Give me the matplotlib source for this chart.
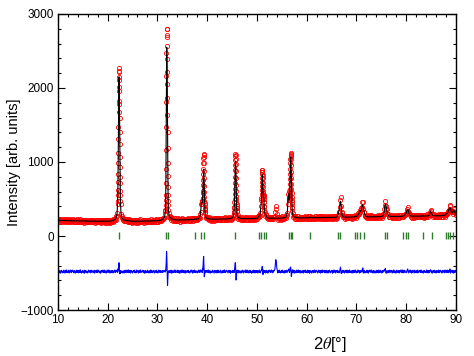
import numpy as np
import matplotlib
matplotlib.use('Agg')
import matplotlib.pyplot as plt
from matplotlib.ticker import MultipleLocator

plt.rcParams['font.family'] = ['Liberation Sans', 'DejaVu Sans']
plt.rcParams['mathtext.fontset'] = 'stix'

# 2theta scan, 0.1 deg step, 10..90
two_theta = np.round(np.linspace(10, 90, 801), 1)

# calculated profile, one row per degree (x.0 .. x.9)
calc_rows = [
    [212, 212, 212, 211, 211, 211, 211, 210, 210, 210],  # 10
    [210, 210, 209, 209, 209, 209, 209, 208, 208, 208],
    [208, 208, 208, 207, 207, 207, 207, 207, 206, 206],
    [206, 206, 206, 206, 206, 205, 205, 205, 205, 205],
    [205, 205, 204, 204, 204, 204, 204, 204, 203, 203],
    [203, 203, 203, 203, 203, 203, 202, 202, 202, 202],  # 15
    [202, 202, 202, 202, 202, 201, 201, 201, 201, 201],
    [201, 201, 201, 201, 201, 200, 200, 200, 200, 200],
    [200, 200, 200, 200, 200, 200, 200, 200, 199, 199],
    [199, 199, 199, 199, 199, 199, 199, 199, 199, 199],
    [200, 200, 200, 201, 201, 202, 203, 204, 206, 208],  # 20
    [211, 213, 215, 217, 221, 226, 234, 246, 263, 302],
    [428, 822, 1600, 2150, 1600, 822, 428, 303, 264, 247],
    [235, 227, 222, 218, 216, 214, 212, 211, 210, 209],
    [208, 207, 206, 205, 204, 203, 202, 201, 201, 200],
    [200, 200, 200, 200, 200, 200, 200, 200, 201, 201],  # 25
    [201, 201, 201, 201, 201, 201, 201, 201, 201, 201],
    [202, 202, 202, 202, 202, 202, 202, 202, 202, 202],
    [203, 203, 203, 203, 203, 203, 204, 204, 204, 204],
    [205, 205, 205, 205, 205, 206, 206, 206, 206, 206],
    [207, 208, 209, 210, 211, 212, 213, 215, 217, 219],  # 30
    [222, 226, 232, 240, 253, 280, 330, 680, 1980, 2510],
    [1960, 900, 365, 300, 272, 258, 248, 241, 236, 232],
    [229, 226, 224, 222, 221, 220, 219, 218, 218, 217],
    [217, 217, 217, 217, 217, 217, 217, 217, 217, 217],
    [218, 218, 218, 218, 218, 219, 219, 219, 219, 219],  # 35
    [220, 220, 220, 220, 220, 221, 221, 221, 221, 221],
    [222, 222, 223, 223, 224, 230, 232, 228, 227, 227],
    [228, 230, 233, 238, 245, 256, 275, 330, 415, 458],
    [455, 505, 728, 901, 710, 443, 308, 264, 248, 242],
    [238, 235, 233, 232, 231, 230, 229, 229, 228, 228],  # 40
    [228, 228, 228, 228, 228, 228, 228, 228, 228, 228],
    [229, 229, 229, 229, 229, 229, 229, 229, 229, 229],
    [230, 230, 230, 230, 230, 230, 230, 230, 230, 230],
    [231, 231, 232, 232, 233, 234, 235, 237, 239, 242],
    [246, 251, 258, 273, 323, 480, 791, 1010, 791, 480],  # 45
    [323, 273, 258, 251, 246, 243, 240, 238, 237, 236],
    [235, 235, 235, 235, 234, 234, 234, 234, 234, 234],
    [235, 235, 235, 235, 235, 235, 235, 235, 235, 235],
    [236, 236, 236, 236, 236, 237, 237, 237, 238, 238],
    [240, 243, 250, 262, 270, 268, 285, 330, 400, 470],  # 50
    [690, 828, 690, 545, 500, 360, 310, 285, 283, 268],
    [256, 249, 245, 243, 242, 241, 241, 241, 241, 241],
    [240, 240, 240, 240, 241, 241, 241, 241, 241, 241],
    [241, 241, 241, 241, 241, 241, 241, 241, 241, 241],
    [242, 243, 244, 244, 245, 247, 249, 252, 257, 267],  # 55
    [284, 321, 417, 554, 570, 492, 573, 855, 1066, 834],
    [511, 348, 290, 275, 266, 261, 257, 254, 252, 250],
    [248, 247, 246, 246, 245, 245, 245, 245, 245, 245],
    [246, 246, 246, 246, 246, 246, 246, 246, 246, 246],
    [247, 247, 247, 247, 247, 248, 250, 255, 250, 248],  # 60
    [248, 248, 248, 248, 248, 248, 248, 248, 248, 248],
    [249, 249, 249, 249, 249, 249, 249, 249, 249, 249],
    [250, 250, 250, 250, 250, 250, 250, 250, 250, 250],
    [251, 251, 251, 251, 251, 251, 251, 251, 251, 251],
    [252, 252, 252, 252, 252, 252, 252, 252, 253, 253],  # 65
    [255, 258, 268, 290, 320, 345, 390, 450, 470, 420],
    [350, 300, 275, 265, 260, 257, 256, 255, 255, 255],
    [255, 255, 255, 255, 255, 255, 255, 255, 255, 255],
    [256, 256, 256, 257, 257, 258, 260, 264, 268, 266],
    [264, 268, 278, 285, 290, 300, 320, 345, 335, 330],  # 70
    [360, 400, 420, 410, 380, 340, 310, 285, 272, 266],
    [262, 260, 259, 259, 259, 259, 259, 259, 259, 259],
    [260, 260, 260, 260, 260, 260, 260, 260, 260, 260],
    [261, 261, 261, 261, 261, 261, 261, 261, 261, 262],
    [263, 265, 268, 273, 282, 300, 340, 400, 430, 420],  # 75
    [390, 350, 315, 290, 278, 271, 268, 266, 265, 264],
    [264, 264, 264, 264, 264, 264, 264, 264, 264, 264],
    [265, 265, 265, 265, 265, 265, 265, 265, 265, 265],
    [266, 266, 267, 268, 270, 273, 278, 285, 292, 300],
    [310, 330, 350, 360, 350, 325, 300, 285, 277, 272],  # 80
    [270, 269, 268, 268, 268, 268, 268, 268, 268, 268],
    [269, 269, 269, 269, 269, 269, 269, 269, 269, 269],
    [270, 270, 270, 270, 275, 270, 270, 270, 270, 270],
    [271, 271, 272, 272, 273, 275, 279, 290, 315, 330],
    [325, 305, 290, 282, 278, 276, 274, 273, 273, 273],  # 85
    [273, 273, 273, 273, 273, 273, 273, 273, 274, 274],
    [274, 274, 275, 275, 276, 277, 278, 280, 283, 287],
    [295, 300, 305, 315, 325, 340, 360, 380, 385, 370],
    [345, 325, 315, 315, 325, 345, 350, 335, 320, 310],
    [300],                                                # 90.0
]

# obs - calc on the same grid (difference curve before its offset)
resid_rows = [
    [12, -8, 21, -15, 4, -22, 9, 17, -5, -18],  # 10
    [7, -13, 19, -2, -20, 14, -9, 23, -16, 3],
    [-11, 18, -4, -19, 10, 22, -7, -14, 16, -1],
    [20, -6, -17, 8, 13, -21, 5, -10, 19, -12],
    [-3, 15, -18, 11, -9, 24, -13, 2, -20, 9],
    [16, -11, 6, -23, 18, -4, 12, -16, 7, -8],  # 15
    [-19, 4, 21, -10, -2, 14, -17, 20, -6, 11],
    [8, -15, -3, 17, -21, 9, 13, -7, -12, 22],
    [-14, 10, 19, -5, -16, 3, -22, 15, 6, -9],
    [18, -2, -13, 21, -8, -17, 11, 4, -19, 13],
    [-6, 23, -11, 2, 16, -20, 8, -14, 12, -4],  # 20
    [14, -18, 7, -9, 20, -3, -15, 19, 5, 12],
    [10, 40, 110, 120, -20, -15, 5, -12, 9, -6],
    [-17, 11, 3, -21, 15, -8, 18, -13, -2, 20],
    [9, -16, 22, -4, -12, 17, -19, 6, 13, -10],
    [-21, 5, 14, -7, 19, -15, 2, -18, 21, -3],  # 25
    [11, -9, -20, 16, 4, -13, 23, -6, -11, 8],
    [-2, 18, -14, 10, -22, 7, 15, -17, 3, -8],
    [19, -12, 6, -19, 13, -1, -16, 22, -9, 5],
    [-15, 8, 17, -6, -20, 12, 4, -11, 18, -14],
    [3, -19, 11, 21, -10, -5, 16, -13, 9, 2],  # 30
    [-12, 15, -7, 8, -3, 14, 20, 90, 280, 250],
    [-190, -120, -40, 10, -15, 12, -9, 18, -21, 7],
    [13, -17, 4, -10, 21, -6, -14, 19, -3, -11],
    [-8, 20, -16, 7, 12, -22, 9, -4, 17, -13],
    [22, -5, -11, 15, -18, 3, 13, -20, 6, 10],  # 35
    [-10, 12, 18, -14, 5, -19, -2, 16, -8, 21],
    [6, -21, 9, 14, -12, 20, -7, -15, 11, -3],
    [-18, 7, -9, 19, -4, -13, 22, -6, 20, 10],
    [10, 30, 120, 205, -70, -30, 8, -16, 14, -5],
    [17, -11, -3, 21, -17, 6, 12, -20, 4, -9],  # 40
    [-14, 19, 8, -6, -21, 15, -2, 10, -18, 13],
    [5, -16, 20, -12, 9, -4, -19, 17, 3, -10],
    [-20, 11, -7, 16, -13, 22, 6, -15, -1, 18],
    [12, -3, -18, 4, 19, -10, 14, -22, 8, -6],
    [-9, 16, -13, 7, -4, 20, 110, 110, -115, -40],  # 45
    [15, -8, 20, -17, 3, 11, -14, 6, -21, 9],
    [-5, 18, -12, -20, 14, 2, -9, 21, -16, 7],
    [21, -14, 5, 10, -19, -3, 17, -11, 8, -22],
    [-7, 9, -17, 19, -6, 13, -20, 4, 15, -12],
    [11, -19, 14, -2, -15, 21, -8, -18, 6, 20],  # 50
    [40, 70, 40, -40, 20, -15, 12, -20, 9, 16],
    [-13, 6, -21, 17, -4, 10, 19, -12, -7, 22],
    [8, -16, 12, -9, 18, 10, 30, 90, 160, 120],
    [50, 15, -18, 11, -6, 20, -13, 3, -19, 14],
    [-11, 21, -5, -16, 9, -20, 13, 7, -14, 18],  # 55
    [4, -12, 16, 20, 35, -8, -25, 40, 70, -50],
    [-40, -10, 25, -18, 6, 14, -21, 11, -3, -15],
    [19, -7, -14, 22, -11, 5, 17, -19, 10, -2],
    [-16, 13, 3, -21, 15, -9, -4, 20, -12, 8],
    [7, -18, 19, -5, -13, 16, -22, 9, 12, -10],  # 60
    [-20, 11, -6, 14, -17, 2, 21, -14, -3, 17],
    [13, -4, -19, 8, 20, -12, -7, 15, -21, 6],
    [-9, 22, -15, 5, -2, 18, -16, -10, 13, -18],
    [16, -13, 9, -20, 12, -5, 19, -8, -17, 4],
    [-3, 17, -22, 10, -14, 21, -6, 13, -19, 8],  # 65
    [14, -9, 18, -12, 6, -16, 5, 30, 60, -20],
    [-25, 10, -14, 19, -7, 12, -20, 3, 16, -11],
    [-15, 20, -4, -18, 11, -9, 22, -13, 7, -6],
    [10, -21, 15, 3, -17, 19, -8, -12, 20, -2],
    [-18, 6, -11, 21, -5, 14, -20, 9, -14, 16],  # 70
    [12, -7, 40, 50, -20, -10, 17, -19, 4, -13],
    [-4, 19, -16, 8, -21, 13, -2, 20, -10, 5],
    [21, -12, 7, -19, 15, -6, -17, 11, 3, -20],
    [-8, 16, -3, -14, 20, -18, 9, -5, 18, -11],
    [6, -20, 13, -9, 17, -2, 22, 15, 40, -15],  # 75
    [-22, 11, -17, 4, 14, -13, -6, 19, -10, 7],
    [15, -5, -19, 12, -8, 21, -16, 2, 10, -21],
    [-12, 18, 9, -15, -1, 16, -20, 13, -7, 20],
    [19, -14, -6, 22, -18, 8, -11, 17, -3, -9],
    [-17, 5, 20, 35, -12, -18, 13, -4, 21, -10],  # 80
    [9, -21, 12, -7, 16, -3, -19, 18, -14, 6],
    [-6, 14, -18, 21, -9, -15, 10, -2, 19, -13],
    [20, -10, 3, -16, 12, -20, 7, 15, -11, -4],
    [-14, 22, -8, 11, -19, 5, 17, -12, 4, 25],
    [15, -17, 6, -20, 13, -5, 19, -9, -15, 10],  # 85
    [-19, 8, 15, -11, -4, 20, -16, 12, -7, 18],
    [11, -13, -20, 9, 17, -6, 3, -18, 21, -8],
    [-5, 17, -12, 20, -15, 10, -9, 25, 35, -20],
    [13, -4, 19, -16, 8, -21, 14, -10, -3, 17],
    [-11],                                        # 90.0
]

# the strong reflections were scanned finer: 0.02 deg steps, 31 points each
fine_start = [22.0, 31.6, 39.0, 45.4, 50.9, 56.5]
fine_calc = [
    [428, 479, 541, 617, 711, 822, 951, 1097, 1257, 1427, 1600, 1768, 1920, 2043, 2123, 2150,
     2123, 2043, 1920, 1768, 1600, 1427, 1257, 1097, 951, 822, 711, 617, 541, 479, 428],
    [330, 360, 400, 460, 550, 680, 860, 1100, 1380, 1680, 1980, 2240, 2420, 2530, 2550, 2510,
     2430, 2330, 2220, 2100, 1960, 1790, 1590, 1360, 1120, 900, 720, 580, 480, 410, 365],
    [455, 453, 456, 465, 481, 505, 537, 576, 623, 674, 728, 780, 829, 867, 893, 901,
     891, 862, 820, 767, 710, 650, 592, 536, 487, 443, 404, 372, 346, 325, 308],
    [323, 343, 368, 398, 436, 480, 532, 590, 654, 721, 791, 858, 918, 967, 999, 1010,
     999, 967, 918, 858, 791, 721, 654, 590, 532, 480, 436, 398, 368, 343, 323],
    [470, 505, 545, 590, 640, 690, 735, 775, 805, 822, 828, 820, 800, 770, 730, 690,
     650, 612, 580, 558, 545, 540, 538, 532, 520, 500, 475, 445, 415, 385, 360],
    [492, 492, 500, 515, 540, 573, 616, 667, 726, 789, 855, 920, 979, 1026, 1057, 1066,
     1053, 1019, 968, 904, 834, 762, 692, 625, 565, 511, 466, 426, 395, 368, 348],
]
fine_resid = [
    [5, -10, 15, 8, 20, 12, 35, 25, 50, 45, 70, 60, 90, 100, 110, 120,
     95, 70, 40, 10, -10, -25, -20, -30, -15, -20, 5, -10, 12, -8, 6],
    [10, -5, 15, 20, 10, 30, 45, 60, 90, 130, 180, 230, 270, 260, 250, 200,
     130, 60, 0, -50, -100, -150, -190, -170, -130, -90, -60, -30, -10, 5, -8],
    [10, -15, 20, 5, 25, 15, 40, 35, 60, 80, 110, 130, 160, 180, 200, 205,
     170, 120, 60, 10, -30, -55, -70, -60, -45, -30, -20, -5, 10, -8, 12],
    [8, -12, 15, 0, 20, 25, 35, 50, 65, 80, 95, 105, 115, 120, 110, 90,
     40, 0, -40, -80, -105, -115, -110, -90, -70, -50, -30, -15, 5, -10, 14],
    [20, 15, 25, 30, 35, 45, 50, 60, 65, 70, 62, 50, 30, 10, -10, -30,
     -40, -35, -20, -5, 10, 15, 20, 12, 5, -5, -10, 8, -6, 10, -4],
    [5, -10, 12, -5, 8, 15, 20, 30, 40, 50, 55, 60, 62, 58, 55, 50,
     35, 15, -10, -35, -55, -65, -60, -50, -35, -20, -10, 5, -8, 10, -5],
]
fine_step = 0.02

bragg_pos = [22.3, 31.75, 32.05, 37.5, 38.85, 39.3, 45.65, 50.35, 50.85,
             51.35, 51.8, 56.4, 56.8, 57.15, 60.75, 66.25, 66.7, 69.75,
             70.2, 70.7, 71.5, 75.7, 76.1, 79.45, 79.9, 80.4, 83.4, 85.1,
             88.0, 88.35, 88.8, 89.5]

diff_offset = -480

# merge coarse grid with the fine windows
x = two_theta.copy()
calc = np.array(sum(calc_rows, []), dtype=float)
resid = np.array(sum(resid_rows, []), dtype=float)
keep = np.ones(len(x), dtype=bool)
xs, cs, rs = [], [], []
for start, c, r in zip(fine_start, fine_calc, fine_resid):
    xf = start + fine_step * np.arange(len(c))
    keep &= ~((x >= xf[0] - 1e-6) & (x <= xf[-1] + 1e-6))
    xs.append(xf)
    cs.append(c)
    rs.append(r)
x = np.concatenate([x[keep]] + xs)
calc = np.concatenate([calc[keep]] + [np.array(c, float) for c in cs])
resid = np.concatenate([resid[keep]] + [np.array(r, float) for r in rs])
order = np.argsort(x)
x, calc, resid = x[order], calc[order], resid[order]

y_obs = calc + resid
y_diff = resid + diff_offset

fig = plt.figure(figsize=(4.74, 3.56), dpi=100)
ax = fig.add_axes([0.122, 0.129, 0.840, 0.832])

ax.plot(x, y_obs, 'o', mfc='none', mec='#ff0000', ms=3.0, mew=0.6, zorder=2)
ax.plot(x, calc, '-', color='black', lw=0.8, zorder=3)
ax.vlines(bragg_pos, -40, 60, color='#2e7d2e', lw=1.0, zorder=2)
ax.plot(x, y_diff, '-', color='#0000ff', lw=0.8, zorder=2)

ax.set_xlim(10, 90)
ax.set_ylim(-1000, 3000)
ax.xaxis.set_major_locator(MultipleLocator(10))
ax.xaxis.set_minor_locator(MultipleLocator(2))
ax.yaxis.set_major_locator(MultipleLocator(1000))
ax.yaxis.set_minor_locator(MultipleLocator(200))
ax.tick_params(which='both', direction='in', top=True, right=True, width=0.8, labelsize=8.5)
ax.tick_params(which='major', length=5, pad=3)
ax.tick_params(which='minor', length=2.5)
for s in ax.spines.values():
    s.set_linewidth(1.0)

ax.set_ylabel('Intensity [arb. units]', fontsize=10.5)
ax.yaxis.set_label_coords(-0.092, 0.5)
fig.text(330 / 474, 1 - 345 / 356, r'2$\theta$[°]', fontsize=12, ha='center', va='center')

fig.savefig('out.png', dpi=100)
